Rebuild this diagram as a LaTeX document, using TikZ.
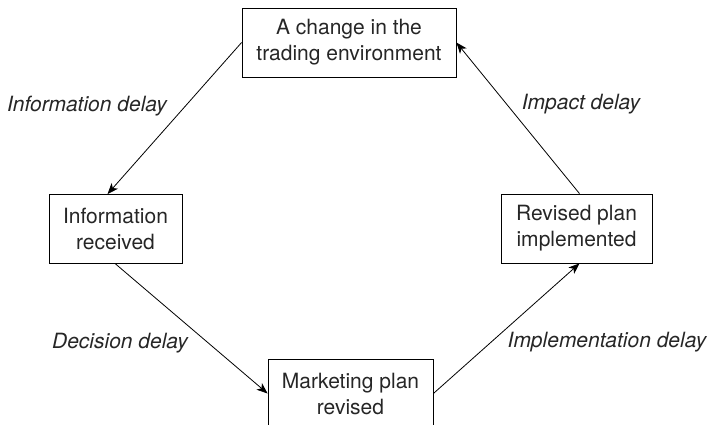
\documentclass[tikz,border=0pt]{standalone}
\usepackage{fontspec}
\setmainfont{TeX Gyre Heros}
\usetikzlibrary{arrows.meta}
\tikzset{
  stage/.style={draw, line width=0.8pt, align=center, inner xsep=0pt, minimum height=69pt,
    font=\fontsize{21}{26}\selectfont, text=black!85},
  delay/.style={inner sep=0pt, font=\fontsize{21}{26}\selectfont\itshape, text=black!85},
  flow/.style={line width=0.8pt, -{Stealth[length=11pt,width=8.5pt,inset=3pt]}}
}
\begin{document}
\begin{tikzpicture}[x=1pt,y=-1pt]
                    \useasboundingbox (0,0) rectangle (711,424);
                    \node[stage, minimum width=214pt] (change) at (349,	42.5) {A change in the\\trading environment};
                    \node[stage, minimum width=133pt] (info) at (115.5,	229) {Information\\received};
                    \node[stage, minimum width=165pt] (revise) at (350.5,	393.5) {Marketing plan\\revised};
                    \node[stage, minimum width=151pt] (impl) at (576.5,	228.5) {Revised plan\\implemented};
                    \node[delay] (infod) at (87,	106.5) {Information delay};
                    \node[delay] (impactd) at (581,	104.5) {Impact delay};
                    \node[delay] (decd) at (120,	343) {Decision delay};
                    \node[delay] (impld) at (607,	342) {Implementation delay};
                    \path[flow]
                    (change.west) edge ([xshift=-8pt]info.north)
                    (info.south) edge (revise.west)
                    (revise.east) edge ([xshift=3pt]impl.south)
                    ([xshift=3pt]impl.north) edge (change.east);
                    \end{tikzpicture}
\end{document}
